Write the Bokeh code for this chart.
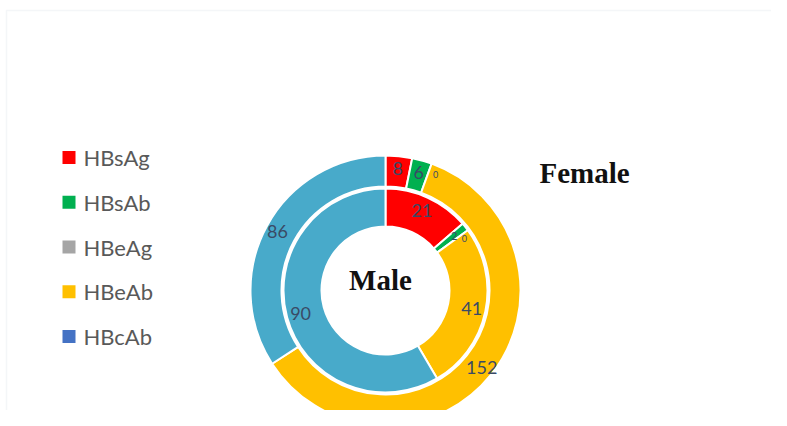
import numpy as np
from bokeh.plotting import figure
from bokeh.models import Range1d, BoxAnnotation
from bokeh.core.properties import value
from bokeh.embed import file_html
from bokeh.resources import INLINE

# ---- data ----
categories = ["HBsAg", "HBsAb", "HBeAg", "HBeAb", "HBcAb"]
female = [8, 6, 0, 152, 86]     # outer ring
male = [21, 2, 0, 41, 90]       # inner ring
legend_colors = ["#FF0000", "#00B050", "#A5A5A5", "#FFC000", "#4472C4"]
slice_colors = ["#FF0000", "#00B050", "#A5A5A5", "#FFC000", "#48AACA"]
ring_titles = ["Female", "Male"]

W, H = 771, 410


def X(px):
    return px


def Y(py):
    return H - py


p = figure(width=W, height=H, output_backend="svg", toolbar_location=None,
           x_range=Range1d(0, W), y_range=Range1d(0, H),
           min_border=0, min_border_left=0, min_border_right=0,
           min_border_top=0, min_border_bottom=0)
p.axis.visible = False
p.grid.visible = False
p.outline_line_color = None
p.background_fill_color = "white"

# frame of the original picture
p.add_layout(BoxAnnotation(left=X(6), right=W + 20, top=Y(10), bottom=-20,
                           fill_alpha=0, line_color="#DCE1E7", line_width=1.5))

cx, cy = X(385), Y(290)
label_color = "#3A4A66"


def ring(vals, r_in, r_out, lab_r, big_size, small_size):
    vals = np.array(vals, dtype=float)
    total = vals.sum()
    cum = np.concatenate([[0], np.cumsum(vals)])
    start = np.pi / 2 - 2 * np.pi * cum[:-1] / total
    end = np.pi / 2 - 2 * np.pi * cum[1:] / total
    keep = vals > 0
    cols = [c for c, k in zip(slice_colors, keep) if k]
    p.annular_wedge(x=cx, y=cy, inner_radius=r_in, outer_radius=r_out,
                    start_angle=start[keep], end_angle=end[keep],
                    direction="clock", fill_color=cols,
                    line_color="white", line_width=2)
    mid = (start + end) / 2
    share = vals / total
    for v, a, s in zip(vals, mid, share):
        xo = 0
        if s < 0.005:
            size = "9px"
            xo = 8
        elif s < 0.03 and v < 5:
            size = small_size
        else:
            size = big_size
        p.text(x=[cx + lab_r * np.cos(a) + xo], y=[cy + lab_r * np.sin(a)],
               text=[str(int(v))], text_font=value("Lato"),
               text_font_size=size, text_color=label_color,
               text_align="center", text_baseline="middle")


ring(female, 104, 135, 123, "18px", "18px")
ring(male, 64, 102, 88, "18px", "11px")

# ring titles
p.text(x=[X(584)], y=[Y(172)], text=[ring_titles[0]],
       text_font=value("Liberation Serif"), text_font_style="bold",
       text_font_size="29px", text_color="#111111",
       text_align="center", text_baseline="middle")
p.text(x=[X(380)], y=[Y(279)], text=[ring_titles[1]],
       text_font=value("Liberation Serif"), text_font_style="bold",
       text_font_size="29px", text_color="#111111",
       text_align="center", text_baseline="middle")

# legend
leg_y = [Y(157 + 44.75 * i) for i in range(len(categories))]
p.rect(x=[X(68.5)] * len(categories), y=leg_y, width=13, height=13,
       fill_color=legend_colors, line_color=None)
p.text(x=[X(83)] * len(categories), y=leg_y, text=categories,
       text_font=value("Lato"), text_font_size="22px", text_color="#595959",
       text_align="left", text_baseline="middle")

open("out.html", "w").write(file_html(p, INLINE))
